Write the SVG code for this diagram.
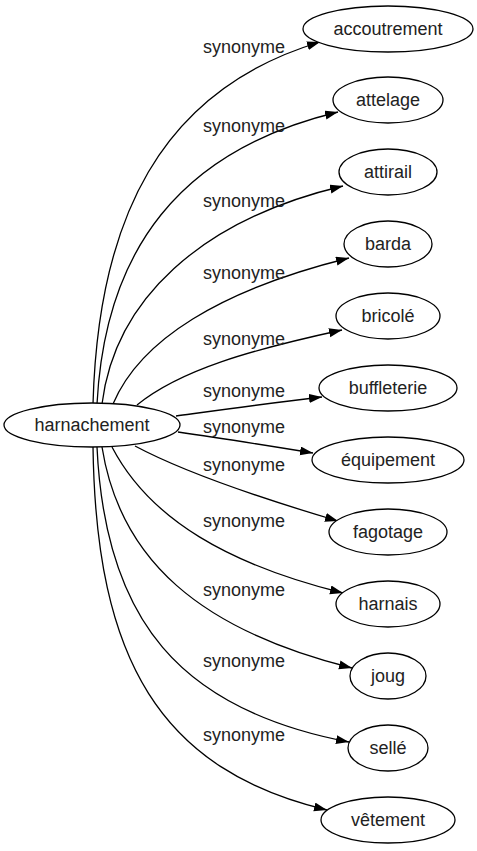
<svg xmlns="http://www.w3.org/2000/svg" width="477" height="851" viewBox="0 0 477 851">
<style>
.n ellipse{fill:#fff;stroke:#000;stroke-width:1.3}
text{font-family:"Liberation Sans",Arial,sans-serif;font-size:18px;fill:#222}
.n text{text-anchor:middle}
.e path{fill:none;stroke:#000;stroke-width:1.3}
</style>
<defs>
<marker id="a" markerUnits="userSpaceOnUse" markerWidth="14" markerHeight="10" refX="13" refY="4.5" orient="auto">
<path d="M0,0 L13,4.5 L0,9 z" fill="#000"/>
</marker>
</defs>
<rect width="477" height="851" fill="#fff"/>
<g id="edges" class="e">
<path marker-end="url(#a)" d="M93,404 C98,220 160,90 320,42"/>
<path marker-end="url(#a)" d="M97,404 C105,250 180,150 338,112"/>
<path marker-end="url(#a)" d="M102,404 C115,300 200,220 343,186"/>
<path marker-end="url(#a)" d="M113,404 C140,340 220,290 349,258"/>
<path marker-end="url(#a)" d="M137,405 C180,370 250,350 342,330"/>
<path marker-end="url(#a)" d="M176,416 C220,410 270,403 322,397"/>
<path marker-end="url(#a)" d="M178,432 C220,438 270,446 313,453"/>
<path marker-end="url(#a)" d="M135,446 C180,470 250,495 338,521"/>
<path marker-end="url(#a)" d="M112,447 C150,520 230,565 343,593"/>
<path marker-end="url(#a)" d="M102,447 C120,560 200,630 352,668"/>
<path marker-end="url(#a)" d="M97,447 C105,620 180,710 349,742"/>
<path marker-end="url(#a)" d="M93,447 C96,660 160,770 327,810"/>
<text x="203" y="53">synonyme</text>
<text x="203" y="132">synonyme</text>
<text x="203" y="207">synonyme</text>
<text x="203" y="279">synonyme</text>
<text x="203" y="345">synonyme</text>
<text x="203" y="397">synonyme</text>
<text x="203" y="433">synonyme</text>
<text x="203" y="471">synonyme</text>
<text x="203" y="527">synonyme</text>
<text x="203" y="596">synonyme</text>
<text x="203" y="667">synonyme</text>
<text x="203" y="741">synonyme</text>
</g>
<g id="harnachement" class="n"><ellipse cx="92" cy="425" rx="88" ry="22"/><text x="92" y="431">harnachement</text></g>
<g id="accoutrement" class="n"><ellipse cx="388" cy="29" rx="85" ry="23"/><text x="388" y="35">accoutrement</text></g>
<g id="attelage" class="n"><ellipse cx="388" cy="100" rx="55" ry="23"/><text x="388" y="106">attelage</text></g>
<g id="attirail" class="n"><ellipse cx="388" cy="172" rx="49" ry="23"/><text x="388" y="178">attirail</text></g>
<g id="barda" class="n"><ellipse cx="388" cy="244" rx="44" ry="23"/><text x="388" y="250">barda</text></g>
<g id="bricole" class="n"><ellipse cx="388" cy="316" rx="52" ry="23"/><text x="388" y="322">bricolé</text></g>
<g id="buffleterie" class="n"><ellipse cx="388" cy="388" rx="69" ry="23"/><text x="388" y="394">buffleterie</text></g>
<g id="equipement" class="n"><ellipse cx="388" cy="460" rx="76" ry="23"/><text x="388" y="466">équipement</text></g>
<g id="fagotage" class="n"><ellipse cx="388" cy="532" rx="59" ry="23"/><text x="388" y="538">fagotage</text></g>
<g id="harnais" class="n"><ellipse cx="388" cy="604" rx="52" ry="23"/><text x="388" y="610">harnais</text></g>
<g id="joug" class="n"><ellipse cx="388" cy="676" rx="38" ry="23"/><text x="388" y="682">joug</text></g>
<g id="selle" class="n"><ellipse cx="388" cy="748" rx="40" ry="23"/><text x="388" y="754">sellé</text></g>
<g id="vetement" class="n"><ellipse cx="388" cy="820" rx="67" ry="23"/><text x="388" y="826">vêtement</text></g>
</svg>
